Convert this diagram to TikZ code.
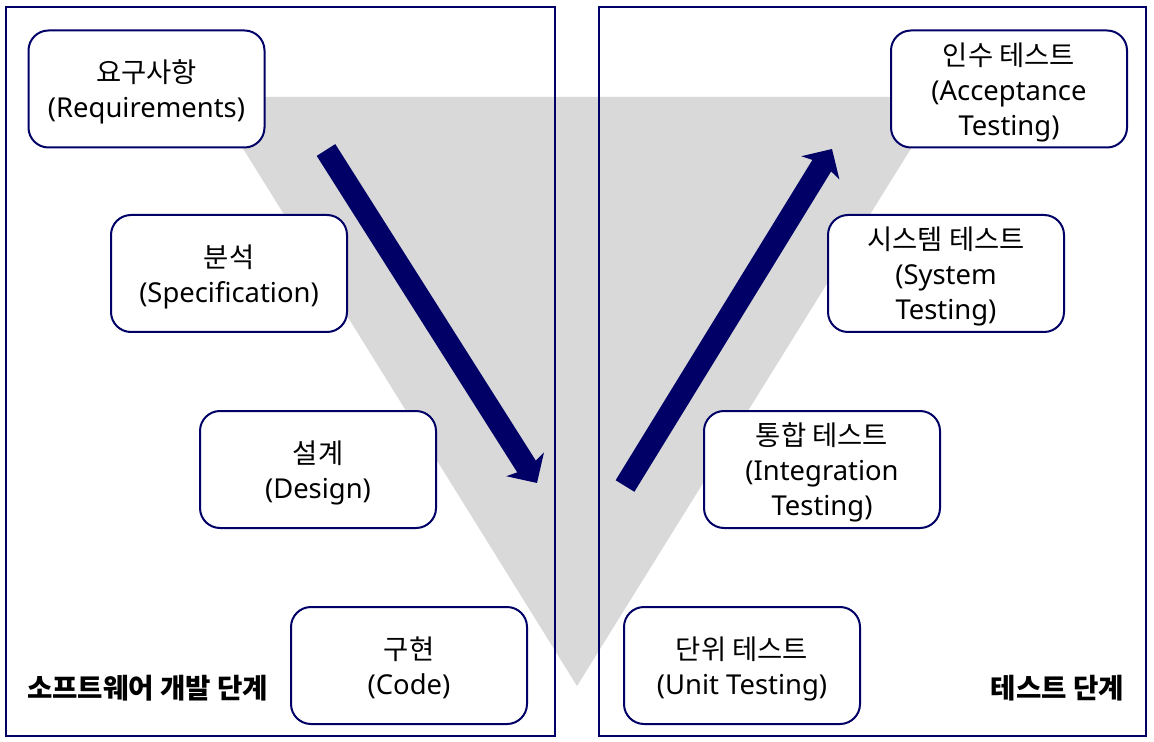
\documentclass[tikz,border=0pt]{standalone}
\usepackage{fontspec}
\setmainfont{Noto Sans}
\newfontfamily\kr{Noto Sans CJK KR}
\usetikzlibrary{arrows.meta}
\definecolor{navy}{RGB}{0,0,102}
\definecolor{light_gray}{RGB}{217,217,217}

\tikzset{
	stage/.style={rectangle,rounded corners=10pt,draw=navy,line width=1pt,fill=white,
		minimum width=118pt,minimum height=58.5pt,align=center,text depth=0pt,
		font=\fontsize{13.7}{17.5}\selectfont},
	panel/.style={draw=navy,line width=1pt},
	flow/.style={navy,line width=11pt,-{Stealth[length=11pt,width=22pt,inset=2.5pt]}},
	phase/.style={font=\kr\bfseries\fontsize{13.8}{16}\selectfont}
}

\begin{document}
\begin{tikzpicture}[x=0.5pt,y=-0.5pt]
	\useasboundingbox (0,0) rectangle (1154,742);
	\fill[light_gray] (211,97) -- (943,97) -- (577,686) -- cycle;

	\draw[panel] (6,7) rectangle (555,736);
	\draw[panel] (599,7) rectangle (1146,736);

	\coordinate (down_start) at (326,150);
	\coordinate (down_end) at (537,483);
	\coordinate (up_start) at (625,486);
	\coordinate (up_end) at (832,149);
	\draw[flow] (down_start) -- (down_end);
	\draw[flow] (up_start) -- (up_end);

	\node[stage] (req) at (146.5,89) {{\kr 요구사항}\\(Requirements)};
	\node[stage] (spec) at (229,273.5) {{\kr 분석}\\(Specification)};
	\node[stage] (design) at (318,469.5) {{\kr 설계}\\(Design)};
	\node[stage] (code) at (409,665.5) {{\kr 구현}\\(Code)};

	\node[stage] (accept) at (1009,89) {{\kr 인수 테스트}\\(Acceptance\\Testing)};
	\node[stage] (system) at (946,273.5) {{\kr 시스템 테스트}\\(System\\Testing)};
	\node[stage] (integ) at (822,469.5) {{\kr 통합 테스트}\\(Integration\\Testing)};
	\node[stage] (unit) at (742,665.5) {{\kr 단위 테스트}\\(Unit Testing)};

	\node[phase,anchor=west] (dev) at (20,688) {소프트웨어 개발 단계};
	\node[phase,anchor=east] (test) at (1131,688) {테스트 단계};
\end{tikzpicture}
\end{document}
